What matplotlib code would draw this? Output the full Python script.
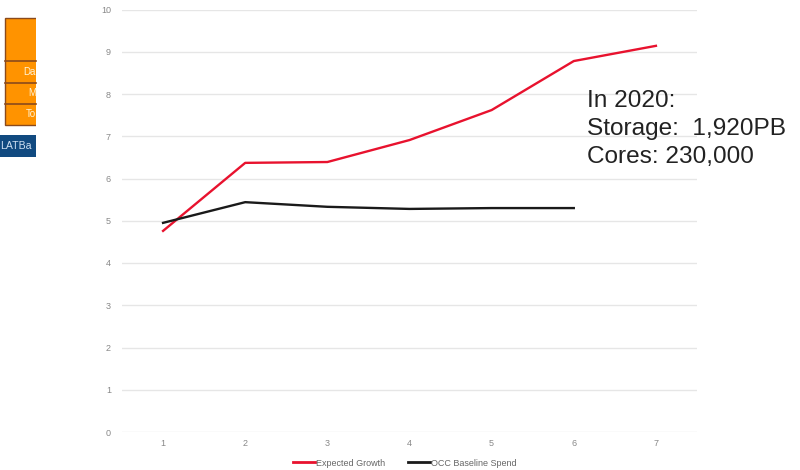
import matplotlib
matplotlib.use("Agg")
import matplotlib.pyplot as plt
from matplotlib.patches import Rectangle

# Series data
periods = [1, 2, 3, 4, 5, 6, 7]
expected_growth = [4.76, 6.37, 6.39, 6.91, 7.62, 8.78, 9.14]
baseline_periods = [1, 2, 3, 4, 5, 6]
occ_baseline = [4.95, 5.44, 5.33, 5.28, 5.30, 5.30]
y_ticks = [0, 1, 2, 3, 4, 5, 6, 7, 8, 9, 10]
series_names = ["Expected Growth", "OCC Baseline Spend"]
note_lines = ["In 2020:", "Storage:  1,920PB", "Cores: 230,000"]
table_rows = ["Da", "M", "To"]
banner_text = "LATBa"

plt.rcParams["font.family"] = ["Liberation Sans", "DejaVu Sans"]

fig = plt.figure(figsize=(8, 4.7), dpi=100)
W, H = 800, 470

ax = fig.add_axes([122 / W, 1 - 432 / H, (697 - 122) / W, (432 - 9.5) / H])
ax.plot(periods, expected_growth, color="#e8122e", lw=1.7, label=series_names[0],
        solid_joinstyle="round")
ax.plot(baseline_periods, occ_baseline, color="#1a1a1a", lw=1.7, label=series_names[1],
        solid_joinstyle="round")
ax.set_xlim(0.5, 7.5)
ax.set_ylim(0, 10)
ax.set_yticks(y_ticks)
ax.set_xticks(periods)
ax.grid(axis="y", color="#e6e6e6", lw=1)
ax.set_axisbelow(True)
for s in ax.spines.values():
    s.set_visible(False)
ax.tick_params(length=0, labelsize=6.5, labelcolor="#888888", pad=8)
ax.tick_params(axis="x", pad=5)

leg = fig.legend(loc="center", bbox_to_anchor=(405 / W, 1 - 463 / H), ncol=2,
                 frameon=False, fontsize=6.5, handlelength=2.4, handletextpad=0.1,
                 columnspacing=2.6)
for t in leg.get_texts():
    t.set_color("#666666")
for l in leg.get_lines():
    l.set_linewidth(2)

# Annotation block
for i, line in enumerate(note_lines):
    fig.text(587 / W, 1 - (107 + 28 * i) / H, line, fontsize=17.6, color="#222222",
             ha="left", va="baseline")

# Partial table and banner on the left edge
ov = fig.add_axes([0, 0, 1, 1], zorder=-1)
ov.set_xlim(0, W)
ov.set_ylim(H, 0)
ov.axis("off")
ov.add_patch(Rectangle((5, 18), 40, 107, facecolor="#ff9300", edgecolor="#8a4a1c", lw=1))
for yy in (61, 83, 104):
    ov.plot([5, 36], [yy, yy], color="#8a4a1c", lw=1.2)
for txt, yy in zip(table_rows, (72, 93, 114)):
    ov.text(36, yy, txt, fontsize=7, color="#fff3d6", ha="right", va="center")
ov.add_patch(Rectangle((0, 135), 36, 22, facecolor="#114a80", edgecolor="none"))
ov.text(0.5, 146, banner_text, fontsize=7.6, color="#cfe0f2", ha="left", va="center")
ov.add_patch(Rectangle((36, 0), 70, H, facecolor="white", edgecolor="none"))

fig.savefig("out.png", dpi=100, facecolor="white")
